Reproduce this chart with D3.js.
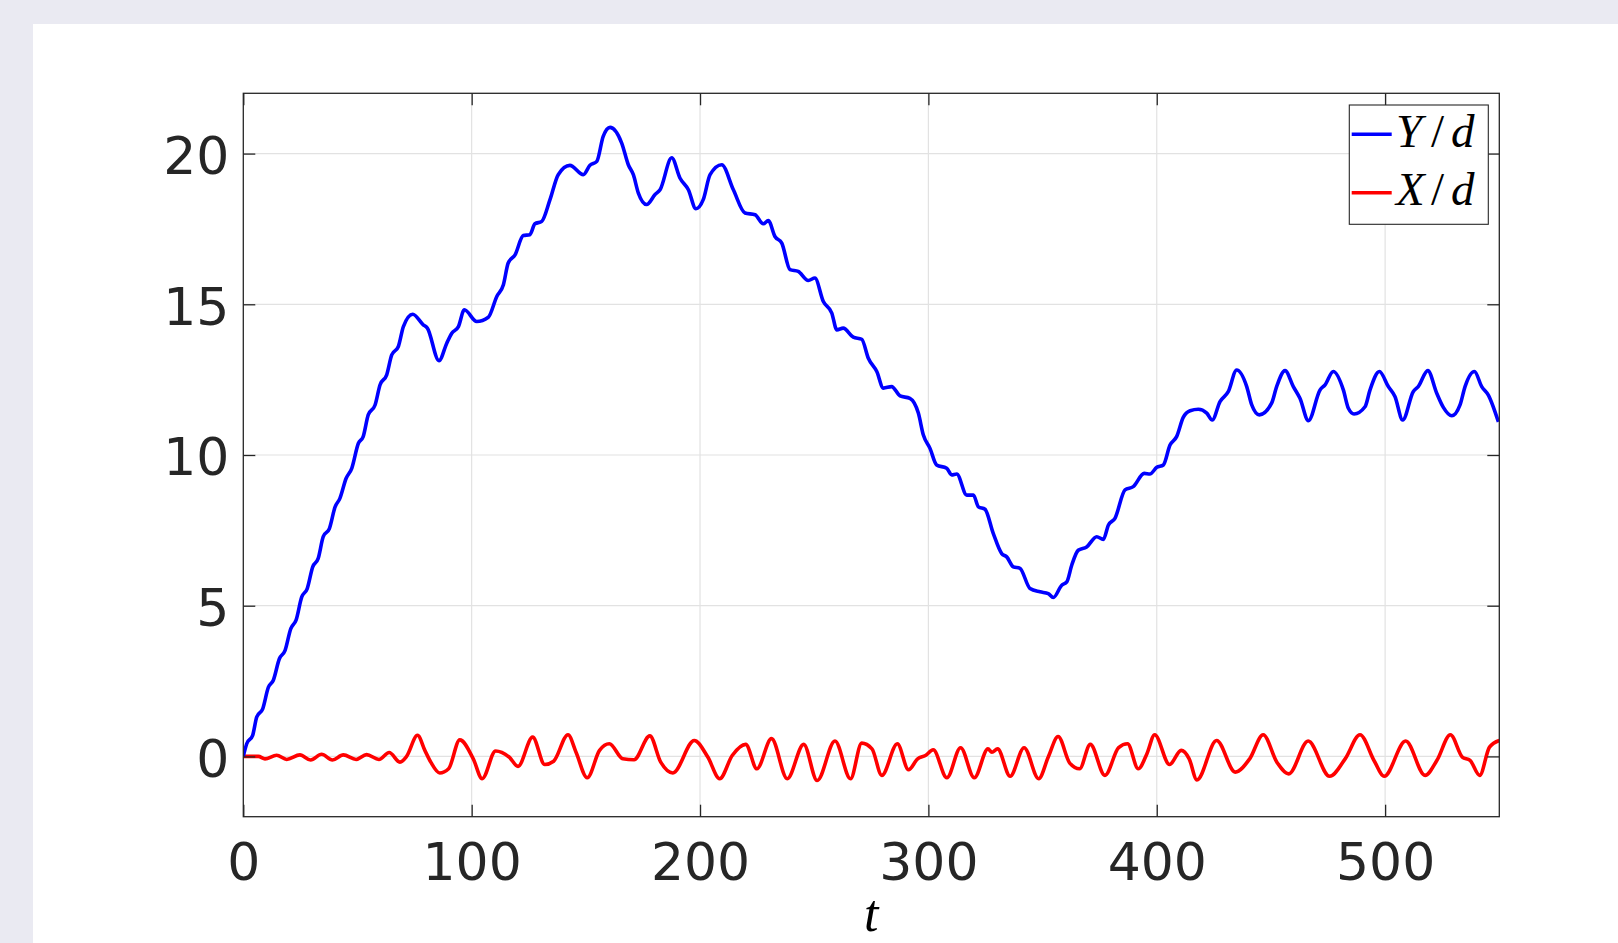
<!DOCTYPE html>
<html>
<head>
<meta charset="utf-8">
<script src="https://cdn.jsdelivr.net/npm/d3@7"></script>
<style>
  html, body { margin: 0; padding: 0; background: #EAEAF2; }
  svg { display: block; }
</style>
</head>
<body>
<svg id="chart" width="1618" height="943"></svg>
<script>
// ---------------- data ----------------
const tY = [0,1.5,4.1,5.9,8.5,11,13.1,15.8,18.3,20.8,23.1,25.6,28,30.4,32.8,35,37.7,40.2,42.3,45,47.5,50.4,52.5,54.7,57.7,59.9,62.8,65,67.9,70.1,74.2,78.8,80.6,85.7,89.1,91.3,94.2,96.8,102.2,107.3,111,113.9,116,119,122.6,125.5,127.7,130.7,134.3,137.9,143,148.9,151.8,154.8,157.6,160.6,165.7,168.6,170.8,173,176.6,180.3,182.5,187.6,191.2,194.9,198.2,201.4,204.4,209.5,214.6,219.7,224.1,227.7,229.9,232.8,235.8,239.4,243,247.4,250.3,254,257.7,259.9,262.7,267.1,270.8,273.7,277.4,280.3,283.9,287.6,291.9,295.6,297.8,300.7,303.6,308,310.2,312.4,316.8,319.7,321.9,324.8,328.4,332.1,334.3,337.2,340.1,344.5,348.9,352.5,354.7,358.4,360.6,362.8,365.6,369.3,373.7,376.6,378.8,381.7,386.1,389.7,394.5,397,400,402.9,405.8,408.7,411.6,414.6,418.2,421.9,424.3,427.7,431.3,435,439.4,441.6,444.9,450.3,452.5,456.2,459.8,462.7,466.4,471.5,473.7,477.3,481.7,483.9,486.4,491.2,493.4,497.5,501.4,504.3,507.7,512.3,514.5,518.7,522.6,525.5,529.2,532.8,535,539.1,542.3,545.2,549.6];
const yOverD = [0,0.42,0.7,1.31,1.58,2.3,2.52,3.24,3.52,4.24,4.52,5.29,5.57,6.29,6.57,7.29,7.56,8.28,8.56,9.22,9.56,10.39,10.61,11.33,11.66,12.33,12.66,13.32,13.6,14.26,14.67,14.32,14.21,13.13,13.71,14.04,14.26,14.82,14.43,14.57,15.26,15.65,16.37,16.64,17.28,17.31,17.67,17.75,18.47,19.3,19.61,19.3,19.61,19.74,20.57,20.87,20.35,19.63,19.3,18.69,18.31,18.64,18.8,19.86,19.19,18.8,18.17,18.47,19.3,19.63,18.8,18.03,17.97,17.67,17.78,17.25,17.03,16.15,16.09,15.79,15.87,15.09,14.71,14.15,14.21,13.91,13.84,13.21,12.77,12.22,12.27,11.96,11.88,11.39,10.66,10.22,9.67,9.56,9.34,9.37,8.67,8.67,8.28,8.2,7.4,6.73,6.62,6.29,6.24,5.57,5.46,5.4,5.27,5.68,5.79,6.35,6.84,6.95,7.29,7.2,7.67,7.9,8.84,8.95,9.39,9.37,9.59,9.67,10.33,10.61,11.25,11.47,11.52,11.39,11.16,11.77,12.1,12.82,12.27,11.66,11.33,11.72,12.27,12.8,12.27,11.88,11.14,12.16,12.33,12.77,12.16,11.55,11.36,11.6,12.16,12.77,12.27,11.94,11.16,12.1,12.27,12.8,12.05,11.58,11.3,11.66,12.27,12.77,12.27,11.99,11.1];

const tX = [0,6.6,9.5,14.6,19,24.8,29.5,34.3,39,43.8,49.4,54,59.4,63.9,68.6,71.5,76.3,79.5,82.1,86,89.9,94.8,100.7,104.6,110.5,116.4,120.3,126.7,132,135.9,142.2,145.7,150.6,156,160.3,166.2,171.1,178,182.8,188.1,197.5,203.4,208.6,214.1,220,224.9,231.3,238.2,245.4,251.3,259.1,265.9,270.8,275.3,279.6,286.4,291.3,295.3,298.7,302.1,308.1,314.1,320.1,326.1,327.8,330.3,335.8,341.9,348.3,352.5,356.8,361.9,366.2,370.9,377.3,383.3,387.2,391.9,395.7,399.1,405.6,410.7,414.2,417.6,426.2,434.4,440.7,446.6,452.6,457.8,466.3,475.7,482.5,489,495.3,499.6,509,517.5,522.7,528.6,533.8,537.2,541.4,545.7,550];
const xOverD = [0,0,-0.08,0.04,-0.1,0.05,-0.12,0.07,-0.12,0.05,-0.1,0.06,-0.1,0.13,-0.19,0.0,0.70,0.2,-0.19,-0.55,-0.41,0.55,-0.08,-0.74,0.18,-0.02,-0.33,0.64,-0.27,-0.16,0.72,0.14,-0.71,0.2,0.42,-0.08,-0.11,0.68,-0.19,-0.55,0.53,-0.02,-0.74,0.03,0.4,-0.41,0.59,-0.74,0.4,-0.8,0.51,-0.74,0.44,0.25,-0.63,0.42,-0.44,-0.08,0.03,0.22,-0.71,0.29,-0.71,0.25,0.14,0.25,-0.66,0.29,-0.74,-0.02,0.66,-0.22,-0.41,0.4,-0.63,0.29,0.42,-0.41,0.09,0.72,-0.27,0.2,-0.08,-0.78,0.53,-0.52,-0.08,0.72,-0.19,-0.58,0.51,-0.66,-0.08,0.72,-0.16,-0.66,0.51,-0.63,-0.13,0.72,-0.02,-0.13,-0.63,0.31,0.53];

const xTicks = [0,100,200,300,400,500];
const yTicks = [0,5,10,15,20];
const seriesNames = ["Y/d","X/d"];
const seriesColors = ["#0000FF","#FF0000"];

// ---------------- layout ----------------
const svg = d3.select("#chart");
const W = 1618, H = 943;
const L = 243.3, R = 1499.3, T = 93.3, B = 816.7;
const x = d3.scaleLinear().domain([0,550]).range([L,R]);
const y = d3.scaleLinear().domain([-2,22]).range([B,T]);
const axisColor = "#262626";
const tickFont = "'DejaVu Sans', sans-serif";

svg.append("rect").attr("width",W).attr("height",H).attr("fill","#EAEAF2");
svg.append("rect").attr("x",33).attr("y",24).attr("width",W-33).attr("height",H-24).attr("fill","#FFFFFF");

// grid
const grid = svg.append("g");
grid.selectAll(".gx").data(xTicks.filter(d=>d>0)).join("line")
  .attr("x1",d=>x(d)).attr("x2",d=>x(d)).attr("y1",T).attr("y2",B)
  .attr("stroke","#E2E2E2").attr("stroke-width",1.2);
grid.selectAll(".gy").data(yTicks).join("line")
  .attr("x1",L).attr("x2",R).attr("y1",d=>y(d)).attr("y2",d=>y(d))
  .attr("stroke","#E2E2E2").attr("stroke-width",1.2);

// lines
svg.append("clipPath").attr("id","clip").append("rect")
  .attr("x",L).attr("y",T).attr("width",R-L).attr("height",B-T);
const lineGen = d3.line().x(d=>x(d[0])).y(d=>y(d[1])).curve(d3.curveMonotoneX);
const plotG = svg.append("g").attr("clip-path","url(#clip)");
plotG.append("path").datum(tX.map((t,i)=>[t,xOverD[i]]))
  .attr("d",lineGen).attr("fill","none").attr("stroke",seriesColors[1])
  .attr("stroke-width",3.6).attr("stroke-linejoin","round");
plotG.append("path").datum(tY.map((t,i)=>[t,yOverD[i]]))
  .attr("d",lineGen).attr("fill","none").attr("stroke",seriesColors[0])
  .attr("stroke-width",3.6).attr("stroke-linejoin","round");

// axes
function styleAxis(g){
  g.select(".domain").remove();
  g.selectAll(".tick line").attr("stroke",axisColor).attr("stroke-width",1.3);
  g.selectAll(".tick text").attr("fill",axisColor).style("font-family",tickFont).style("font-size","52px");
}
svg.append("g").attr("transform",`translate(0,${B})`)
  .call(d3.axisBottom(x).tickValues(xTicks).tickSize(-12).tickPadding(26.3))
  .call(styleAxis);
svg.append("g").attr("transform",`translate(0,${T})`)
  .call(d3.axisTop(x).tickValues(xTicks).tickSize(-12).tickFormat(""))
  .call(styleAxis);
const yAx = svg.append("g").attr("transform",`translate(${L},0)`)
  .call(d3.axisLeft(y).tickValues(yTicks).tickSize(-12).tickPadding(14))
  .call(styleAxis);
yAx.selectAll(".tick text").attr("dy","0.38em");
svg.append("g").attr("transform",`translate(${R},0)`)
  .call(d3.axisRight(y).tickValues(yTicks).tickSize(-12).tickFormat(""))
  .call(styleAxis);

// box
svg.append("rect").attr("x",L).attr("y",T).attr("width",R-L).attr("height",B-T)
  .attr("fill","none").attr("stroke",axisColor).attr("stroke-width",1.3);

// x label
svg.append("text").attr("x",(L+R)/2).attr("y",931).attr("text-anchor","middle")
  .style("font-family","'Liberation Serif', serif").style("font-style","italic")
  .style("font-size","52px").attr("fill","#000").text("t");

// legend
const lg = svg.append("g");
lg.append("rect").attr("x",1349.3).attr("y",105).attr("width",139).attr("height",119.3)
  .attr("fill","#fff").attr("stroke",axisColor).attr("stroke-width",1.1);
const rowsY = [134.3,192.7];
const baseY = [147.3,205];
seriesNames.forEach((name,i)=>{
  lg.append("line").attr("x1",1351.7).attr("x2",1391.7).attr("y1",rowsY[i]).attr("y2",rowsY[i])
    .attr("stroke",seriesColors[i]).attr("stroke-width",3.4);
  const parts = name.split("/");
  const txt = lg.append("text").attr("y",baseY[i])
    .style("font-family","'Liberation Serif', serif").style("font-size","47px").attr("fill","#000");
  txt.append("tspan").attr("x",1396).style("font-style","italic").text(parts[0]);
  txt.append("tspan").attr("x",1431).text("/");
  txt.append("tspan").attr("x",1451).style("font-style","italic").text(parts[1]);
});
</script>
</body>
</html>
